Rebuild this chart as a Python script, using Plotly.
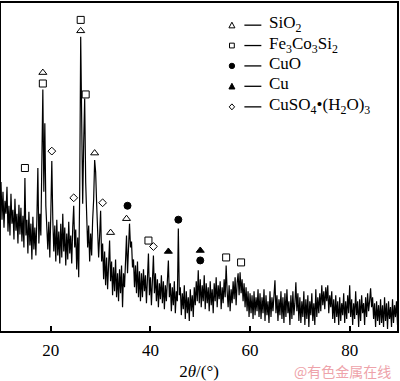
import numpy as np
import plotly.graph_objects as go

# 2theta sampling grid (0.2 degree step, 10 -> 89.8)
two_theta = np.round(np.arange(400) * 0.2 + 10.0, 2)

# intensity (arbitrary units)
intensity = [
    150, 112, 140, 104, 131, 118, 145, 100, 126, 96, 138, 108, 122, 92, 133, 101, 118, 88, 127, 97,
    124, 90, 116, 84, 154, 96, 112, 78, 120, 86, 108, 72, 115, 82, 104, 76, 112, 164, 88, 118,
    96, 150, 243, 140, 209, 126, 98, 82, 110, 74, 118, 171, 112, 80, 106, 70, 112, 76, 100, 68,
    108, 74, 118, 80, 104, 66, 98, 72, 110, 78, 96, 68, 104, 126, 84, 102, 62, 94, 54, 140,
    296, 180, 128, 190, 234, 150, 112, 84, 106, 70, 98, 76, 112, 132, 172, 160, 128, 90, 74, 96,
    121, 70, 88, 52, 80, 46, 74, 42, 66, 91, 50, 70, 36, 64, 40, 72, 34, 58, 30, 62,
    38, 66, 24, 58, 44, 74, 96, 58, 82, 108, 84, 90, 64, 72, 44, 66, 38, 70, 34, 60,
    30, 58, 34, 62, 40, 56, 28, 60, 78, 36, 54, 26, 50, 76, 38, 58, 30, 52, 24, 48,
    32, 56, 28, 50, 22, 46, 30, 54, 71, 34, 48, 20, 44, 26, 50, 18, 40, 30, 103, 36,
    44, 16, 38, 22, 46, 12, 40, 18, 34, 10, 42, 20, 36, 14, 44, 26, 50, 30, 61, 28,
    52, 24, 46, 30, 56, 22, 48, 28, 44, 20, 50, 26, 42, 18, 48, 30, 54, 24, 46, 32,
    50, 22, 44, 28, 52, 34, 66, 40, 24, 46, 20, 42, 28, 50, 32, 54, 26, 48, 58, 36,
    59, 38, 52, 30, 48, 24, 44, 20, 40, 14, 38, 18, 36, 12, 40, 16, 34, 20, 42, 14,
    38, 12, 34, 18, 42, 10, 36, 16, 30, 8, 40, 14, 34, 20, 44, 51, 18, 36, 10, 32,
    16, 40, 12, 34, 8, 38, 14, 42, 18, 30, 6, 36, 12, 40, 16, 28, 49, 20, 38, 10,
    34, 8, 30, 14, 40, 6, 32, 12, 36, 4, 30, 16, 38, 10, 28, 6, 42, 14, 34, 18,
    38, 20, 46, 26, 40, 22, 44, 30, 46, 18, 36, 24, 40, 12, 32, 8, 36, 14, 30, 6,
    34, 10, 28, 16, 38, 8, 30, 12, 36, 18, 46, 14, 32, 6, 28, 12, 40, 16, 30, 4,
    32, 10, 36, 18, 28, 6, 34, 14, 38, 20, 30, 43, 24, 34, 12, 28, 4, 30, 10, 26,
    6, 32, 8, 26, 4, 34, 10, 28, 2, 30, 12, 24, 4, 32, 8, 26, 14, 30, 6, 22,
]

# phase markers: (2theta, marker height)
sio2_x = [18.4, 26.0, 28.8, 32.0, 35.2]
sio2_y = [260, 302, 179, 99, 113]
fecosi_x = [14.8, 18.4, 26.0, 27.0, 39.6, 55.2, 58.2]
fecosi_y = [164, 249, 313, 238, 91, 74, 69]
cuo_x = [35.4, 45.6, 50.0]
cuo_y = [126, 112, 71]
cu_x = [43.6, 50.0]
cu_y = [80, 81]
cuso4_x = [20.2, 24.6, 30.4, 40.6]
cuso4_y = [181, 134, 129, 85]

phase_names = ["SiO<sub>2</sub>",
               "Fe<sub>3</sub>Co<sub>3</sub>Si<sub>2</sub>",
               "CuO",
               "Cu",
               "CuSO<sub>4</sub>•(H<sub>2</sub>O)<sub>3</sub>"]
phase_symbols = ["triangle-up-open", "square-open", "circle", "triangle-up", "diamond-open"]
phase_sizes = [7, 7, 7, 7, 6]

W, H = 400, 381
ML, MR, MT, MB = 1, 2, 1, 50
PW, PH = W - ML - MR, H - MT - MB


def px(xp):
    return (xp - ML) / PW


def py(yp):
    return (H - MB - yp) / PH


fig = go.Figure()
fig.add_trace(go.Scatter(x=two_theta, y=intensity, mode="lines",
                         line=dict(color="black", width=1.2), showlegend=False,
                         hoverinfo="skip"))

phase_data = [(sio2_x, sio2_y), (fecosi_x, fecosi_y), (cuo_x, cuo_y),
              (cu_x, cu_y), (cuso4_x, cuso4_y)]
for (xs, ys), sym, nm, sz in zip(phase_data, phase_symbols, phase_names, phase_sizes):
    fig.add_trace(go.Scatter(x=xs, y=ys, mode="markers", name=nm, showlegend=False,
                             marker=dict(symbol=sym, size=sz, color="black",
                                         line=dict(color="black", width=1))))

# manual legend (symbol, dash, label)
shapes = []
annotations = []
row_y = [23.3, 43.8, 64.3, 84.8, 105.5]
mx = 232.5
s = 2.7
for i, (sym, nm) in enumerate(zip(phase_symbols, phase_names)):
    cy = row_y[i]
    filled = "open" not in sym
    fill = "black" if filled else "white"
    if sym.startswith("triangle"):
        path = "M {} {} L {} {} L {} {} Z".format(px(mx - s - 0.3), py(cy + s), px(mx + s + 0.3), py(cy + s),
                                                 px(mx), py(cy - s - 0.3))
        shapes.append(dict(type="path", xref="paper", yref="paper", path=path,
                           line=dict(color="black", width=1), fillcolor=fill))
    elif sym.startswith("square"):
        shapes.append(dict(type="rect", xref="paper", yref="paper",
                           x0=px(mx - s + 0.3), x1=px(mx + s - 0.3), y0=py(cy + s - 0.3), y1=py(cy - s + 0.3),
                           line=dict(color="black", width=1), fillcolor=fill))
    elif sym.startswith("circle"):
        shapes.append(dict(type="circle", xref="paper", yref="paper",
                           x0=px(mx - s), x1=px(mx + s), y0=py(cy + s), y1=py(cy - s),
                           line=dict(color="black", width=1), fillcolor=fill))
    else:
        path = "M {} {} L {} {} L {} {} L {} {} Z".format(px(mx), py(cy - s - 0.3), px(mx + s), py(cy),
                                                         px(mx), py(cy + s + 0.3), px(mx - s), py(cy))
        shapes.append(dict(type="path", xref="paper", yref="paper", path=path,
                           line=dict(color="black", width=1), fillcolor=fill))
    shapes.append(dict(type="line", xref="paper", yref="paper",
                       x0=px(245), x1=px(262), y0=py(cy), y1=py(cy),
                       line=dict(color="black", width=1.3)))
    annotations.append(dict(text=nm, xref="paper", yref="paper", x=px(268), y=py(cy - 14),
                            xanchor="left", yanchor="top", showarrow=False,
                            font=dict(family="Liberation Serif", size=17, color="black")))

annotations.append(dict(text="@有色金属在线", xref="paper", yref="paper",
                        x=px(394), y=py(371), xanchor="right", yanchor="middle",
                        showarrow=False,
                        font=dict(family="Noto Sans CJK SC", size=14, color="#eea3aa")))

fig.update_layout(
    width=W, height=H,
    margin=dict(l=ML, r=MR, t=MT, b=MB),
    paper_bgcolor="white", plot_bgcolor="white",
    font=dict(family="Liberation Serif", size=17, color="black"),
    showlegend=False,
    xaxis=dict(range=[10, 89.5], tickvals=[20, 40, 60, 80], ticks="inside",
               ticklen=5, tickwidth=1.5, tickcolor="black", ticklabelstandoff=3,
               showline=True, mirror=True, linewidth=1.5, linecolor="black",
               showgrid=False, zeroline=False,
               tickfont=dict(family="Liberation Serif", size=17),
               title=dict(text="2<i>θ</i>/(°)", standoff=6,
                          font=dict(family="Liberation Serif", size=17))),
    yaxis=dict(range=[0, 330], showticklabels=False, ticks="",
               showline=True, mirror=True, linewidth=1.5, linecolor="black",
               showgrid=False, zeroline=False),
    shapes=shapes,
    annotations=annotations,
)

fig.write_html("out.html", post_script="document.body.style.margin='0px';",
               config={"displayModeBar": False})
